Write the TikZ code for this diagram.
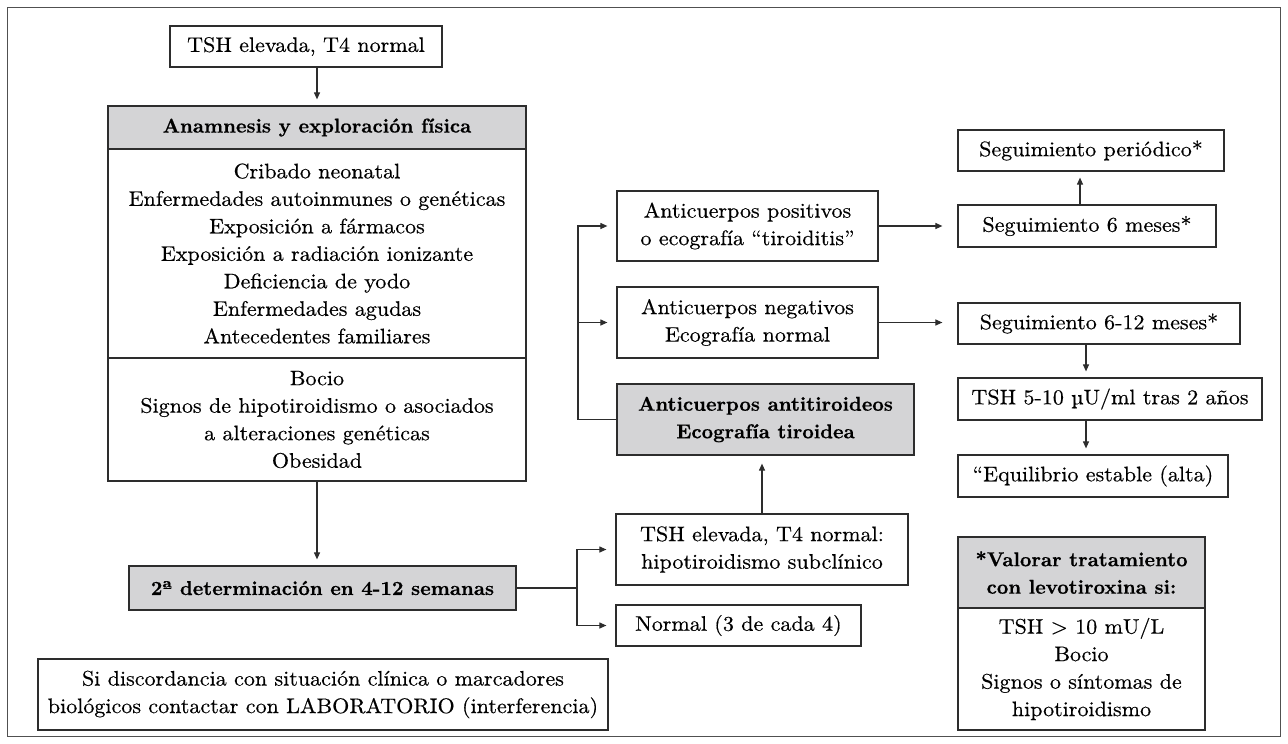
\documentclass[tikz,border=0pt]{standalone}
\usepackage{fontspec}
\setmainfont{lmroman10-regular}[Extension=.otf, FakeStretch=1.05, FakeBold=0.4]
\newfontfamily\hdfont{lmroman10-bold}[Extension=.otf, FakeBold=0.5]
\usetikzlibrary{arrows.meta,calc}
\definecolor{boxgray}{RGB}{212,212,214}
\definecolor{linecol}{RGB}{45,45,45}
\definecolor{framecol}{RGB}{80,80,80}
\begin{document}
\begin{tikzpicture}[x=1pt,y=-1pt,
  font=\fontsize{21}{27.5}\selectfont,
  box/.style={draw=linecol, line width=1.2pt, fill=white, inner sep=0pt, align=center, text=black},
  gbox/.style={box, fill=boxgray, font=\fontsize{20}{27.5}\selectfont\hdfont},
  conn/.style={draw=linecol, line width=1.1pt},
  arr/.style={conn, -{Triangle[length=7pt,width=6pt]}},
]
\useasboundingbox (0,0) rectangle (1288,744);
\draw[draw=framecol, line width=1.4pt] (7.5,7.5) rectangle (1280.5,736.5);

% left column
\node[box, minimum width=272, minimum height=41] (tsh) at (306,46.5) {TSH elevada, T4 normal};
\node[gbox, minimum width=418, minimum height=43] (anh) at (317,127.5) {Anamnesis y exploración física};
\node[box, minimum width=418, minimum height=209] (anl) at (317,253.5) {Cribado neonatal\\Enfermedades autoinmunes o genéticas\\Exposición a fármacos\\Exposición a radiación ionizante\\Deficiencia de yodo\\Enfermedades agudas\\Antecedentes familiares};
\node[box, minimum width=418, minimum height=123] (ans) at (317,419.5) {Bocio\\Signos de hipotiroidismo o asociados\\a alteraciones genéticas\\Obesidad};
\node[gbox, minimum width=387, minimum height=44] (det) at (322.5,588) {2ª determinación en 4-12 semanas};
\node[box, minimum width=570, minimum height=71] (si) at (323,694.5) {Si discordancia con situación clínica o marcadores\\biológicos contactar con LABORATORIO (interferencia)};

% middle column
\node[box, minimum width=292, minimum height=71] (tshsub) at (762,549.5) {TSH elevada, T4 normal:\\hipotiroidismo subclínico};
\node[box, minimum width=245, minimum height=41] (normal) at (738.5,625.5) {Normal (3 de cada 4)};
\node[gbox, minimum width=297, minimum height=71] (anti) at (765.5,419.5) {Anticuerpos antitiroideos\\Ecografía tiroidea};
\node[box, minimum width=261, minimum height=70] (pos) at (747.5,226) {Anticuerpos positivos\\o ecografía “tiroiditis”};
\node[box, minimum width=261, minimum height=71] (neg) at (747.5,322.5) {Anticuerpos negativos\\Ecografía normal};

% right column
\node[box, minimum width=266, minimum height=41] (per) at (1091,150.5) {Seguimiento periódico*};
\node[box, minimum width=258, minimum height=42] (s6) at (1087,226) {Seguimiento 6 meses*};
\node[box, minimum width=282, minimum height=41] (s612) at (1099,323.5) {Seguimiento 6-12 meses*};
\node[box, minimum width=304, minimum height=42] (t510) at (1110,399) {TSH 5-10 µU/ml tras 2 años};
\node[box, minimum width=270, minimum height=42] (equ) at (1093,476) {“Equilibrio estable (alta)};
\node[gbox, minimum width=247, minimum height=71] (valh) at (1081.5,572.5) {*Valorar tratamiento\\con levotiroxina si:};
\node[box, minimum width=247, minimum height=122] (valb) at (1081.5,669) {TSH > 10 mU/L\\Bocio\\Signos o síntomas de\\hipotiroidismo};

% helper coordinates
\coordinate (b1) at (577,588);
\coordinate (b2) at (578,419.5);
\coordinate (xa) at (1080,0);
\coordinate (xb) at (1086,0);

% connectors
\draw[arr, shorten >=6pt] (anh.north |- tsh.south) -- (anh.north);
\draw[arr, shorten >=6pt] (ans.south) -- (ans.south |- det.north);
\draw[conn] (det.east) -- (b1);
\draw[arr, shorten >=9pt] (b1) |- (tshsub.west);
\draw[arr, shorten >=9pt] (b1) |- (normal.west);
\draw[arr, shorten >=8pt] (tshsub.north) -- (tshsub.north |- anti.south);
\draw[conn] (anti.west) -- (b2);
\draw[arr, shorten >=9pt] (b2) |- (pos.west);
\draw[arr, shorten >=9pt] (b2 |- neg.west) -- (neg.west);
\draw[arr, shorten >=15pt] (pos.east) -- (pos.east -| s6.west);
\draw[arr, shorten >=15pt] (neg.east) -- (neg.east -| s612.west);
\draw[arr, shorten >=6pt] (s6.north -| xa) -- (per.south -| xa);
\draw[arr, shorten >=6pt] (s612.south -| xb) -- (t510.north -| xb);
\draw[arr, shorten >=6pt] (t510.south -| xb) -- (equ.north -| xb);
\end{tikzpicture}
\end{document}
